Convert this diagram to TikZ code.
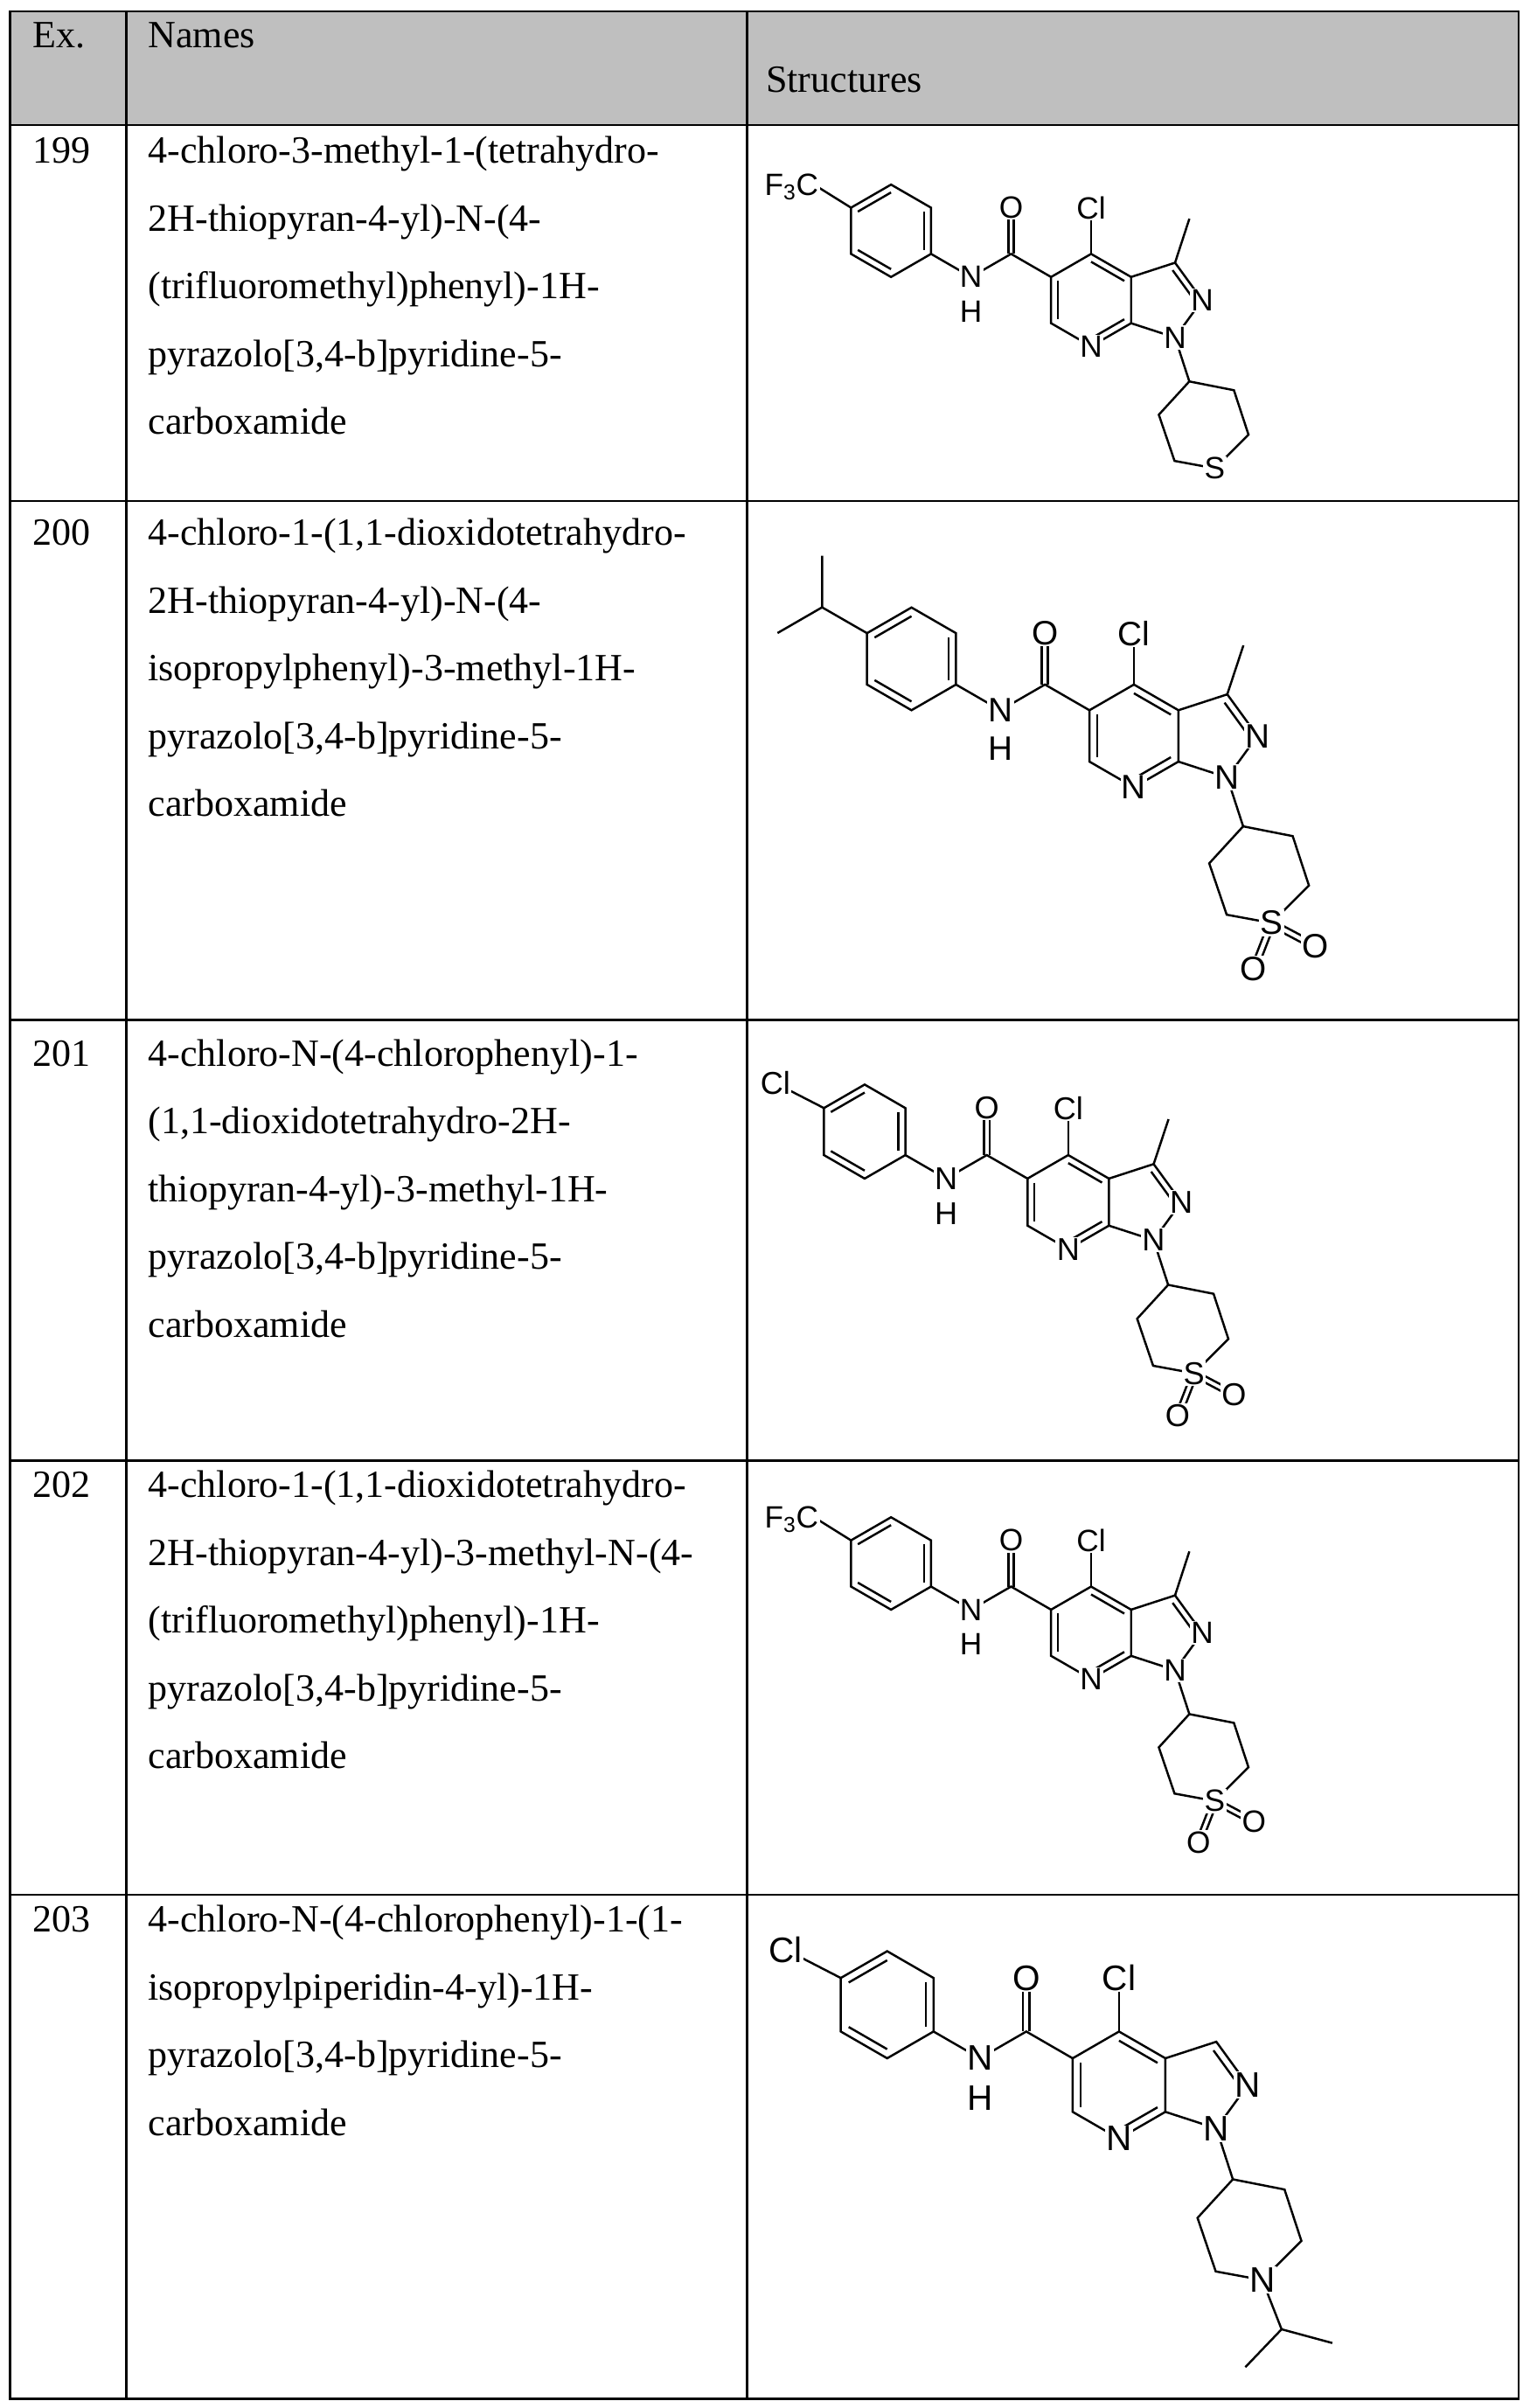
\documentclass[tikz,border=0pt]{standalone}
\usepackage{fontspec}
\setmainfont{Liberation Serif}
\setsansfont{Liberation Sans}
\usetikzlibrary{calc}
\tikzset{
  bond/.style={line width=1.4pt},
  grid/.style={line width=1.3pt},
  lbl/.style={fill=white,inner sep=0.8pt,font=\lblfont},
  nm/.style={anchor=base west,inner sep=0pt,font=\fontsize{25}{25}\selectfont},
}
\newcommand\lblfont{\sffamily}
\newcommand\corecoords{%
  \coordinate (C5) at (0,0); \coordinate (C4) at (0.866,-0.5);
  \coordinate (C3a) at (1.732,0); \coordinate (C7a) at (1.732,1);
  \coordinate (N7) at (0.866,1.5); \coordinate (C6) at (0,1);
  \coordinate (C3) at (2.683,-0.309); \coordinate (N2) at (3.271,0.5);
  \coordinate (N1) at (2.683,1.309);
  \coordinate (Cc) at (-0.866,-0.5); \coordinate (O) at (-0.866,-1.5);
  \coordinate (NH) at (-1.732,0); \coordinate (H) at (-1.732,0.75);
  \coordinate (A4) at (-2.598,-0.5); \coordinate (A3) at (-2.598,-1.5);
  \coordinate (A2) at (-3.464,-2); \coordinate (A1) at (-4.33,-1.5);
  \coordinate (A6) at (-4.33,-0.5); \coordinate (A5) at (-3.464,0);
  \coordinate (Clc) at (0.866,-1.5);
  \coordinate (Py) at (0.866,0.5); \coordinate (Bz) at (-3.464,-1);
  \coordinate (Pz) at (2.42,0.5);
  \coordinate (Cy1) at (2.992,2.26);
  \coordinate (Cy2) at (3.957,2.45);
  \coordinate (Cy3) at (4.272,3.41);
  \coordinate (X) at (3.542,4.14);
  \coordinate (Cy5) at (2.672,3.98);
  \coordinate (Cy6) at (2.332,2.98);
}
\newcommand\corebonds{%
  \draw[bond] (C5)--(C4)--(C3a)--(C7a)--(N7)--(C6)--cycle;
  \draw[bond] (C3a)--(C3)--(N2)--(N1)--(C7a);
  \draw[bond] (A1)--(A2)--(A3)--(A4)--(A5)--(A6)--cycle;
  \draw[bond] (A4)--(NH)--(Cc)--(C5);
  \draw[bond] (C4)--(Clc);
  \draw[bond] (N1)--(Cy1);
  \draw[bond] (Cy1)--(Cy2)--(Cy3)--(X)--(Cy5)--(Cy6)--cycle;
  \draw[bond] (-0.926,-0.5)--(-0.926,-1.5);
  \draw[bond] (-0.806,-0.5)--(-0.806,-1.5);
  \foreach \p/\q/\c/\f in {C5/C6/Py/0.17,C4/C3a/Py/0.17,C7a/N7/Py/0.17,
      A1/A2/Bz/0.17,A3/A4/Bz/0.17,A5/A6/Bz/0.17,C3/N2/Pz/0.2}
    \draw[bond] ($(\p)!\f!(\c)$)--($(\q)!\f!(\c)$);
}
\newcommand\corelabels{%
  \node[lbl] at (N7) {N}; \node[lbl] at (N2) {N}; \node[lbl] at (N1) {N};
  \node[lbl] at (NH) {N}; \node[lbl] at (H) {H}; \node[lbl] at (O) {O};
  \node[lbl] at (Clc) {Cl};
}
\newcommand\methyl{\draw[bond] (C3)--(2.992,-1.26);}
\newcommand\cfthree{\draw[bond] (A1)--(-5.05,-1.95); \node[lbl,anchor=east] at (-5.0,-1.95) {F\textsubscript{3}C};}
\newcommand\paracl{\draw[bond] (A1)--(-5.3,-2.0); \node[lbl] at (-5.35,-2.03) {Cl};}
\newcommand\sulfone{%
  \coordinate (O1) at (3.192,5.04); \coordinate (O2) at (4.392,4.59);
  \draw[bond] (3.598,4.162)--(3.248,5.062);
  \draw[bond] (3.486,4.118)--(3.136,5.018);
  \draw[bond] (3.514,4.193)--(4.364,4.643);
  \draw[bond] (3.570,4.087)--(4.420,4.537);
  \node[lbl] at (X) {S}; \node[lbl] at (O1) {O}; \node[lbl] at (O2) {O};
}
\begin{document}
\begin{tikzpicture}[x=1pt,y=-1pt]
\useasboundingbox (0,0) rectangle (993,1563);
% table
\fill[black!25] (6.5,7.3) rectangle (986,81);
\draw[grid] (6.5,7.3) rectangle (986,1557);
\foreach \yy in {81,325,662,948,1230} \draw[grid] (6.5,\yy)--(986,\yy);
\draw[grid] (82,7.3)--(82,1557);
\draw[grid] (485,7.3)--(485,1557);
% header
\node[nm] (hex) at (21,31) {Ex.};
\node[nm] (hnm) at (96,31) {Names};
\node[nm] (hst) at (497,60) {Structures};
% names
\foreach \yb/\num/\la/\lb/\lc/\ld/\le in {
  106/199/{4-chloro-3-methyl-1-(tetrahydro-}/{2H-thiopyran-4-yl)-N-(4-}/{(trifluoromethyl)phenyl)-1H-}/{pyrazolo[3,4-b]pyridine-5-}/{carboxamide},
  354/200/{4-chloro-1-(1,1-dioxidotetrahydro-}/{2H-thiopyran-4-yl)-N-(4-}/{isopropylphenyl)-3-methyl-1H-}/{pyrazolo[3,4-b]pyridine-5-}/{carboxamide},
  692/201/{4-chloro-N-(4-chlorophenyl)-1-}/{(1,1-dioxidotetrahydro-2H-}/{thiopyran-4-yl)-3-methyl-1H-}/{pyrazolo[3,4-b]pyridine-5-}/{carboxamide},
  972/202/{4-chloro-1-(1,1-dioxidotetrahydro-}/{2H-thiopyran-4-yl)-3-methyl-N-(4-}/{(trifluoromethyl)phenyl)-1H-}/{pyrazolo[3,4-b]pyridine-5-}/{carboxamide},
  1254/203/{4-chloro-N-(4-chlorophenyl)-1-(1-}/{isopropylpiperidin-4-yl)-1H-}/{pyrazolo[3,4-b]pyridine-5-}/{carboxamide}/{}}{
  \node[nm] (ex\num) at (21,\yb) {\num};
  \node[nm] (na\num) at (96,\yb) {\la};
  \node[nm] (nb\num) at (96,\yb+44) {\lb};
  \node[nm] (nc\num) at (96,\yb+88) {\lc};
  \node[nm] (nd\num) at (96,\yb+132) {\ld};
  \node[nm] (ne\num) at (96,\yb+176) {\le};
}
% 199
\begin{scope}[shift={(682.3,179.8)},scale=30]
  \def\lblfont{\sffamily\fontsize{20}{20}\selectfont}
  \corecoords\corebonds\methyl\corelabels\cfthree
  \node[lbl] at (X) {S};
\end{scope}
% 200
\begin{scope}[shift={(707.2,461)},scale=33.4]
  \def\lblfont{\sffamily\fontsize{22}{22}\selectfont}
  \corecoords\corebonds\methyl\corelabels
  \draw[bond] (A1)--(-5.196,-2)--(-5.196,-3); \draw[bond] (-5.196,-2)--(-6.062,-1.5);
  \sulfone
\end{scope}
% 201
\begin{scope}[shift={(667,765)},scale=30.6]
  \def\lblfont{\sffamily\fontsize{20.5}{20.5}\selectfont}
  \corecoords\corebonds\methyl\corelabels\paracl\sulfone
\end{scope}
% 202
\begin{scope}[shift={(682.3,1044.8)},scale=30]
  \def\lblfont{\sffamily\fontsize{20}{20}\selectfont}
  \corecoords\corebonds\methyl\corelabels\cfthree\sulfone
\end{scope}
% 203
\begin{scope}[shift={(696.3,1336)},scale=34.8]
  \def\lblfont{\sffamily\fontsize{23}{23}\selectfont}
  \corecoords\corebonds\corelabels\paracl
  \coordinate (Ci) at (3.902,5.06);
  \draw[bond] (X)--(Ci)--(3.222,5.76); \draw[bond] (Ci)--(4.842,5.31);
  \node[lbl] at (X) {N};
\end{scope}
\end{tikzpicture}
\end{document}
